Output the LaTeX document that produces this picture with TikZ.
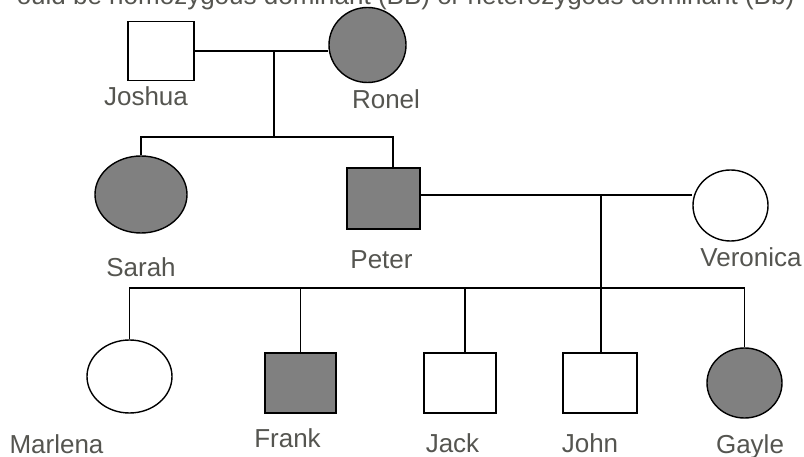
\documentclass[tikz,border=0pt]{standalone}
\usepackage{fontspec}
\setmainfont{Liberation Sans}
\usetikzlibrary{shapes.geometric,backgrounds}
\definecolor{lbl}{RGB}{85,85,80}
\definecolor{aff}{RGB}{128,128,128}
\begin{document}
\begin{tikzpicture}[x=1pt,y=-1pt,line width=1.4pt,
  male/.style={draw=black,rectangle,inner sep=0pt,fill=white},
  female/.style={draw=black,ellipse,inner sep=0pt,fill=white},
  affected/.style={fill=aff},
  lab/.style={text=lbl,font=\fontsize{26}{30}\selectfont,anchor=base,inner sep=0pt},
  conn/.style={draw=black,line width=1.4pt}]
\useasboundingbox (0,0) rectangle (804,457);
% title (clipped)
\node[lab,anchor=base east] (title) at (795,5) {ould be homozygous dominant (BB) or heterozygous dominant (Bb)};
% generation I
\node[male,minimum width=66pt,minimum height=59pt] (joshua) at (161,51) {};
\node[female,affected,minimum width=77pt,minimum height=75pt] (ronel) at (367.5,45) {};
% generation II
\node[female,affected,minimum width=92pt,minimum height=77pt] (sarah) at (141,194.5) {};
\node[male,affected,minimum width=73pt,minimum height=61pt] (peter) at (383.5,198.5) {};
\node[female,minimum width=75pt,minimum height=71pt] (veronica) at (730.5,205.5) {};
% generation III
\node[female,minimum width=85pt,minimum height=73pt] (marlena) at (129.5,376.5) {};
\node[male,affected,minimum width=71pt,minimum height=60pt] (frank) at (300.5,383) {};
\node[male,minimum width=72pt,minimum height=60pt] (jack) at (460,383) {};
\node[male,minimum width=74pt,minimum height=60pt] (john) at (600,383) {};
\node[female,affected,minimum width=75pt,minimum height=70pt] (gayle) at (744.5,383) {};
% labels
\node[lab] (ljoshua) at (146,106) {Joshua};
\node[lab] (lronel) at (386,109) {Ronel};
\node[lab] (lsarah) at (141,277) {Sarah};
\node[lab] (lpeter) at (381.5,269) {Peter};
\node[lab] (lveronica) at (751,267) {Veronica};
\node[lab] (lmarlena) at (56.5,453) {Marlena};
\node[lab] (lfrank) at (287.5,447) {Frank};
\node[lab] (ljack) at (452.5,452) {Jack};
\node[lab] (ljohn) at (590,452) {John};
\node[lab] (lgayle) at (750,453) {Gayle};
% junction coordinates
\coordinate (m1) at (274,51);
\coordinate (s1) at (274,137);
\coordinate (m2) at (601,195);
\coordinate (s2) at (601,288);
\coordinate (ptop) at (393,168);
\begin{scope}[on background layer]
  \draw[conn] (joshua.east) -- (ronel.west |- joshua.east);
  \draw[conn] (m1) -- (s1);
  \draw[conn] (sarah.north) |- (s1) -| (ptop);
  \draw[conn] (peter.east |- m2) -- (veronica.west |- m2);
  \draw[conn] (m2) -- (s2);
  \draw[conn] (marlena.north) |- (s2);
  \draw[conn] (s2) -| (gayle.north);
  \draw[conn] (frank.north) -- (frank.north |- s2);
  \draw[conn] ([xshift=5pt]jack.north) -- ([xshift=5pt]jack.north |- s2);
  \draw[conn] ([xshift=1pt]john.north) -- ([xshift=1pt]john.north |- s2);
\end{scope}
\end{tikzpicture}
\end{document}
